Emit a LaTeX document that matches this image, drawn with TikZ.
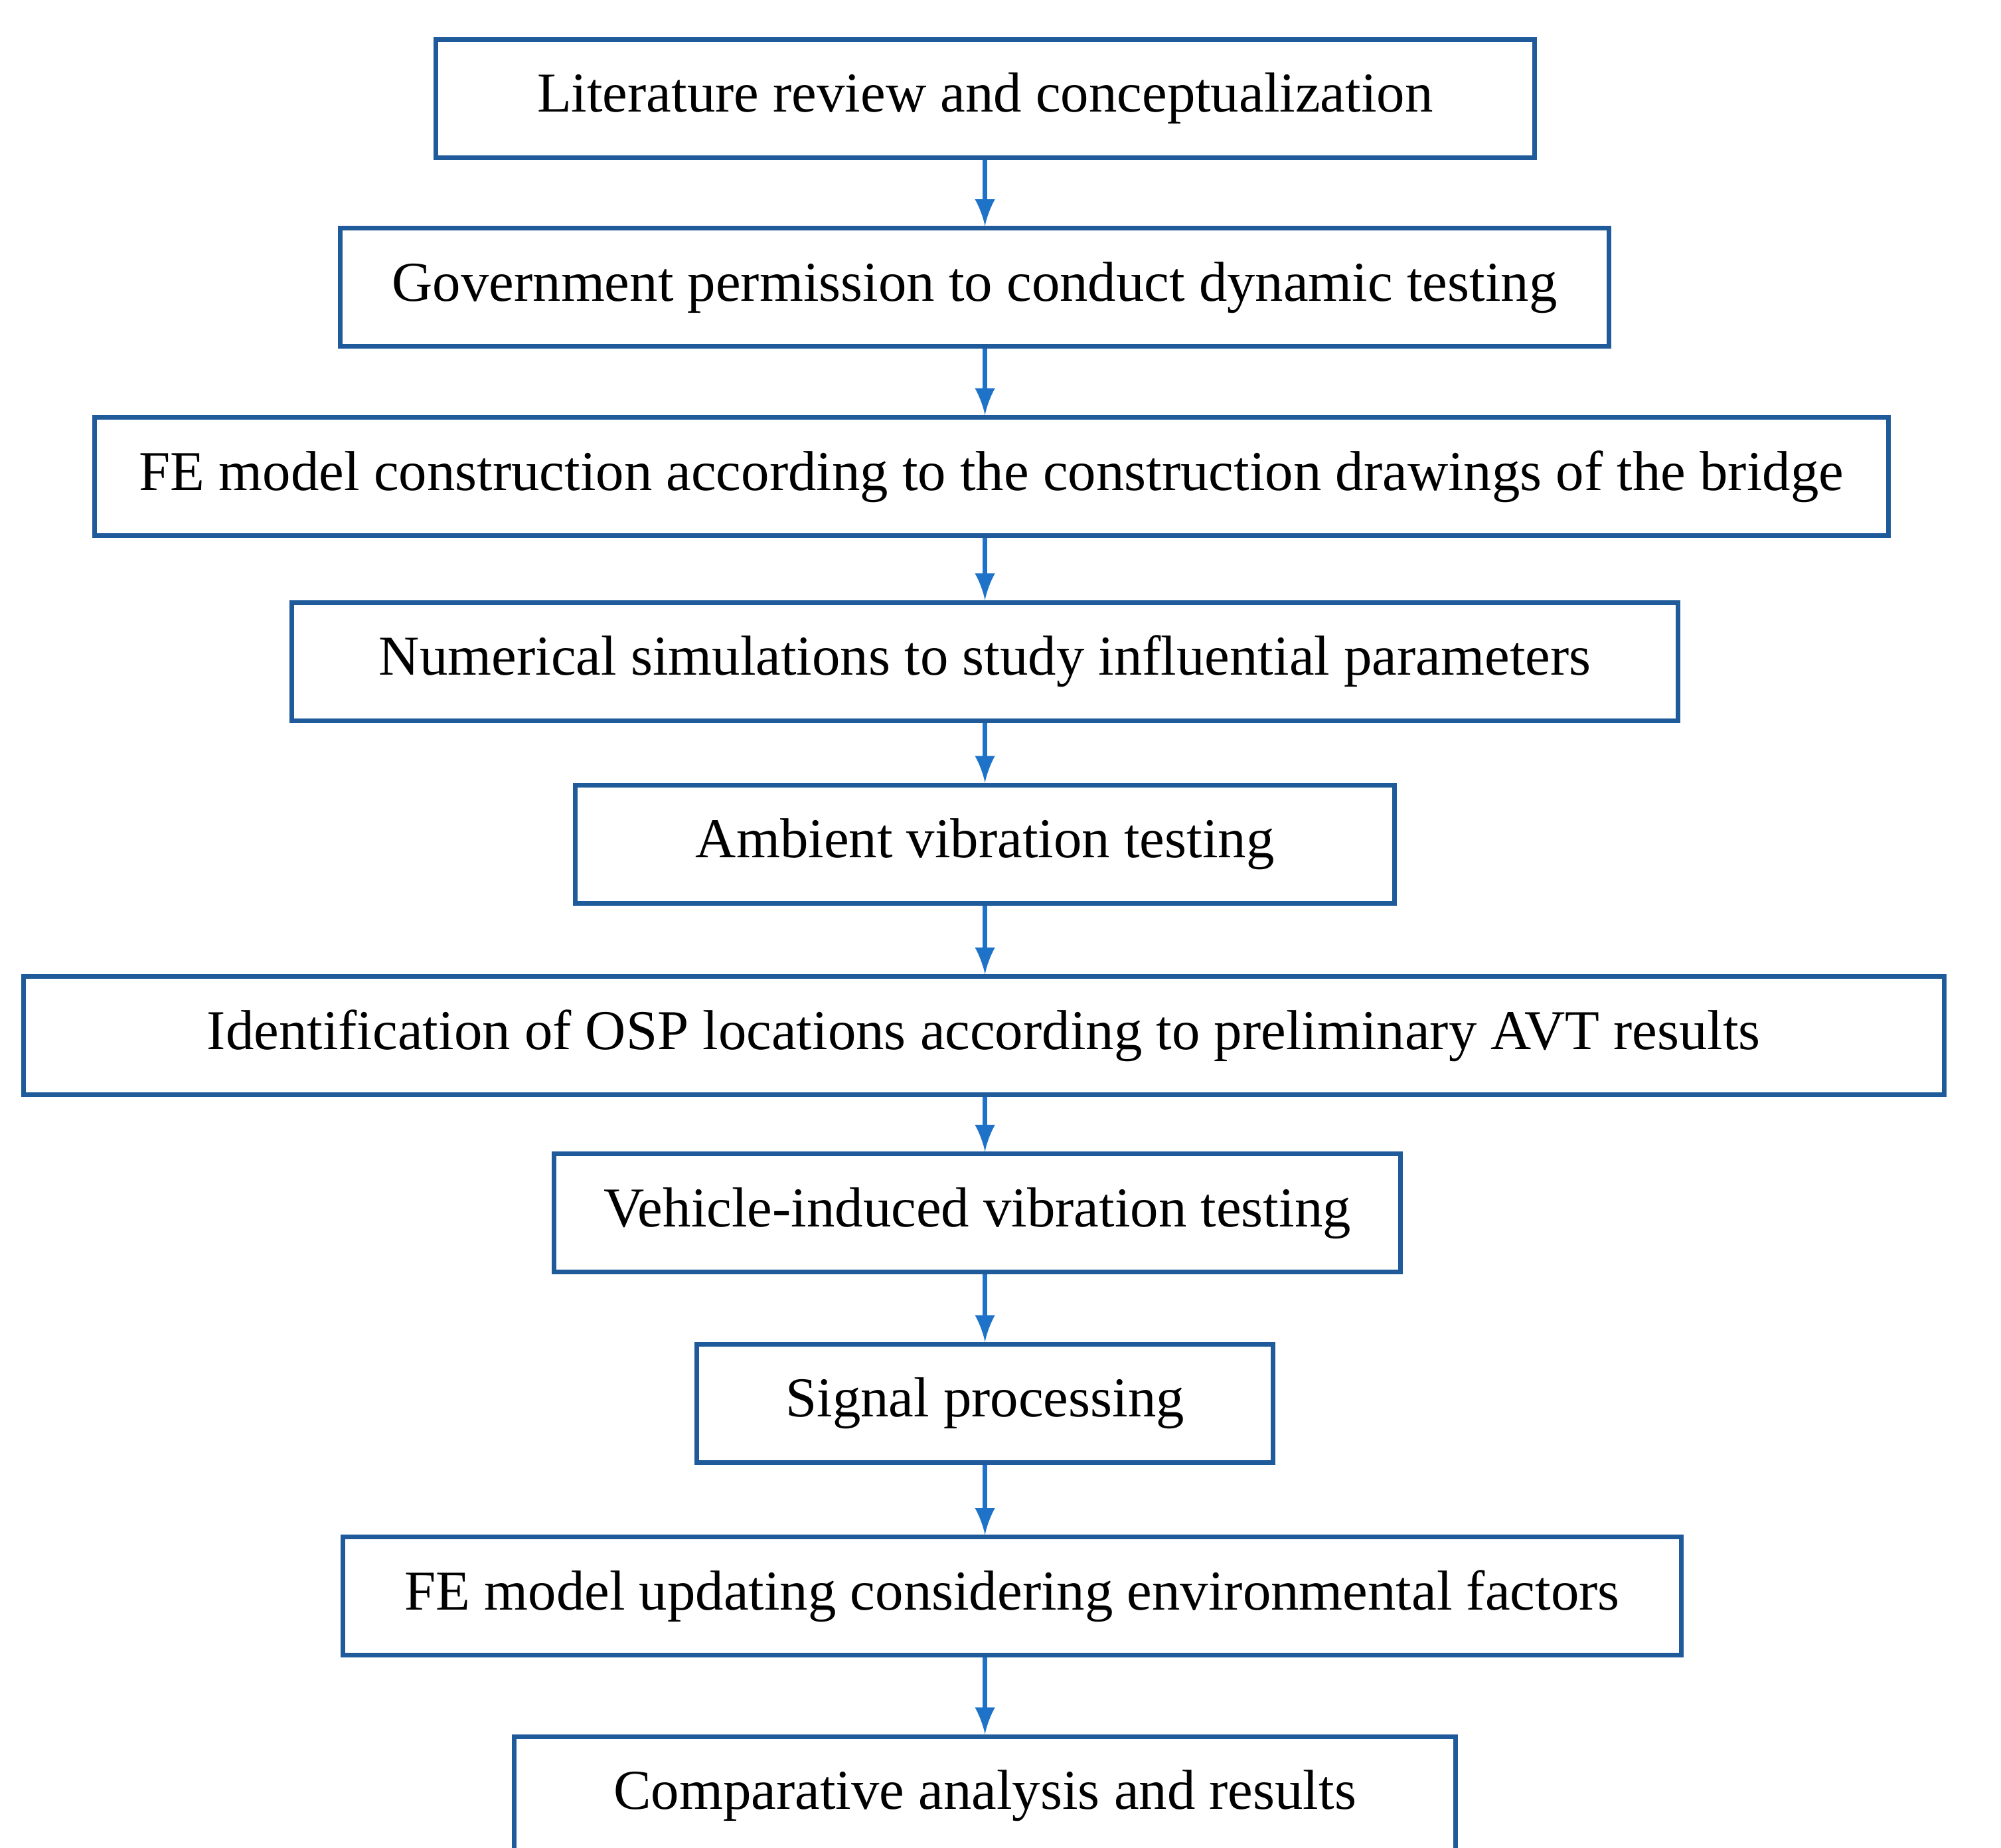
\documentclass[tikz,border=0pt]{standalone}
\usepackage{fontspec}
\setmainfont{Liberation Serif}
\definecolor{boxblue}{HTML}{1F5A9B}
\definecolor{arrowblue}{HTML}{1E73C8}
\tikzset{
	stage/.style={draw=boxblue, line width=1pt, minimum height=0.9cm, inner sep=0pt,
		font=\fontsize{12.2}{15}\selectfont},
	flow/.style={draw=arrowblue, line width=1pt, -latex}
}
\begin{document}
\begin{tikzpicture}[x=0.00986cm,y=-0.00986cm]
	\useasboundingbox (0,0) rectangle (1546,1427);

	\foreach \name/\cx/\cy/\w/\txt in {
		lit/761/76/849/Literature review and conceptualization,
		gov/753/222/980/Government permission to conduct dynamic testing,
		fem/766/368/1386/FE model construction according to the construction drawings of the bridge,
		num/761/511/1071/Numerical simulations to study influential parameters,
		avt/761/652/633/Ambient vibration testing,
		osp/760/800/1484/Identification of OSP locations according to preliminary AVT results,
		veh/755/937/654/Vehicle-induced vibration testing,
		sig/761/1084/445/Signal processing,
		upd/782/1233/1034/FE model updating considering environmental factors,
		cmp/761/1387/727/Comparative analysis and results
	}{
		\node[stage, minimum width=\w*0.00986cm] (\name) at (\cx,\cy) {\txt};
	}

	\foreach \a/\b in {lit/gov,gov/fem,fem/num,num/avt,avt/osp,osp/veh,veh/sig,sig/upd,upd/cmp}
		\draw[flow] (lit.south |- \a.south) -- (lit.south |- \b.north);
\end{tikzpicture}
\end{document}
